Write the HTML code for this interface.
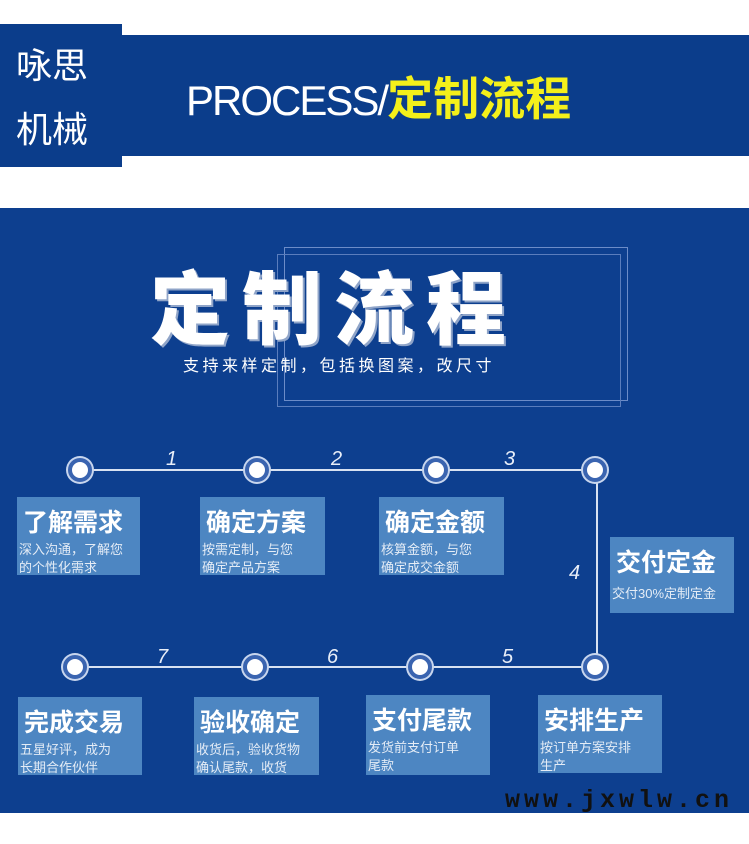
<!DOCTYPE html>
<html><head><meta charset="utf-8"><style>
*{margin:0;padding:0}
body{width:749px;height:844px;position:relative;background:#fff;overflow:hidden;font-family:"Liberation Sans","Noto Sans CJK SC",sans-serif}
.a{position:absolute}
.box{position:absolute;background:#4d86c2;color:#fff}
.box b{display:block;font-size:25px;font-weight:bold;padding:6px 0 0 6px;letter-spacing:0px}
.box span{display:block;font-size:13px;line-height:18px;padding:2px 0 0 2px;color:#e4ecf6}
.c{position:absolute;width:16px;height:16px;border-radius:50%;background:#fff;border:4px solid #3a64b0;box-shadow:0 0 0 2px #c8d6ee}
.n{position:absolute;color:#e8eef8;font-style:italic;font-size:20px}
.ln{position:absolute;background:#d8e2f2}
</style></head><body>
<div class="a" style="left:0;top:35px;width:749px;height:121px;background:#0b3d8b"></div>
<div class="a" style="left:0;top:24px;width:122px;height:143px;background:#0b3d8b"></div>
<div class="a" style="left:16px;top:34px;color:#fff;font-size:36px;line-height:64px">咏思<br>机械</div>
<div class="a" style="left:186px;top:74px;color:#fff;font-size:42px;line-height:50px;letter-spacing:-2px">PROCESS/<span style="color:#f4f01a;font-weight:bold;font-size:46px;letter-spacing:0">定制流程</span></div>
<div class="a" style="left:0;top:208px;width:749px;height:605px;background:#0d3f8f"></div>
<div class="a" style="left:284px;top:247px;width:342px;height:152px;border:1px solid #6c8cc8"></div>
<div class="a" style="left:277px;top:254px;width:342px;height:151px;border:1px solid #5a7dbd"></div>
<div class="a" style="left:150px;top:266px;color:#fff;font-size:80px;font-weight:900;letter-spacing:12px;line-height:90px;text-shadow:2px 2px 0 #8fa4c8">定制流程</div>
<div class="a" style="left:183px;top:352px;color:#fff;font-size:16px;letter-spacing:3.5px">支持来样定制，包括换图案，改尺寸</div>
<div class="ln" style="left:80px;top:469px;width:515px;height:2px"></div>
<div class="ln" style="left:596px;top:470px;width:2px;height:197px"></div>
<div class="ln" style="left:75px;top:666px;width:521px;height:2px"></div>
<div class="c" style="left:68px;top:458px"></div>
<div class="c" style="left:245px;top:458px"></div>
<div class="c" style="left:424px;top:458px"></div>
<div class="c" style="left:583px;top:458px"></div>
<div class="c" style="left:63px;top:655px"></div>
<div class="c" style="left:243px;top:655px"></div>
<div class="c" style="left:408px;top:655px"></div>
<div class="c" style="left:583px;top:655px"></div>
<div class="n" style="left:166px;top:448px">1</div>
<div class="n" style="left:331px;top:448px">2</div>
<div class="n" style="left:504px;top:448px">3</div>
<div class="n" style="left:569px;top:562px">4</div>
<div class="n" style="left:502px;top:646px">5</div>
<div class="n" style="left:327px;top:646px">6</div>
<div class="n" style="left:157px;top:646px">7</div>
<div class="box" style="left:17px;top:497px;width:123px;height:78px"><b>了解需求</b><span>深入沟通，了解您<br>的个性化需求</span></div>
<div class="box" style="left:200px;top:497px;width:125px;height:78px"><b>确定方案</b><span>按需定制，与您<br>确定产品方案</span></div>
<div class="box" style="left:379px;top:497px;width:125px;height:78px"><b>确定金额</b><span>核算金额，与您<br>确定成交金额</span></div>
<div class="box" style="left:610px;top:537px;width:124px;height:76px"><b>交付定金</b><span style="padding-top:6px">交付30%定制定金</span></div>
<div class="box" style="left:18px;top:697px;width:124px;height:78px"><b>完成交易</b><span>五星好评，成为<br>长期合作伙伴</span></div>
<div class="box" style="left:194px;top:697px;width:125px;height:78px"><b>验收确定</b><span>收货后，验收货物<br>确认尾款，收货</span></div>
<div class="box" style="left:366px;top:695px;width:124px;height:80px"><b>支付尾款</b><span>发货前支付订单<br>尾款</span></div>
<div class="box" style="left:538px;top:695px;width:124px;height:78px"><b>安排生产</b><span>按订单方案安排<br>生产</span></div>
<div class="a" style="left:505px;top:786px;color:#111;font-family:'Liberation Mono',monospace;font-weight:bold;font-size:25px;letter-spacing:4px">www.jxwlw.cn</div>
</body></html>
